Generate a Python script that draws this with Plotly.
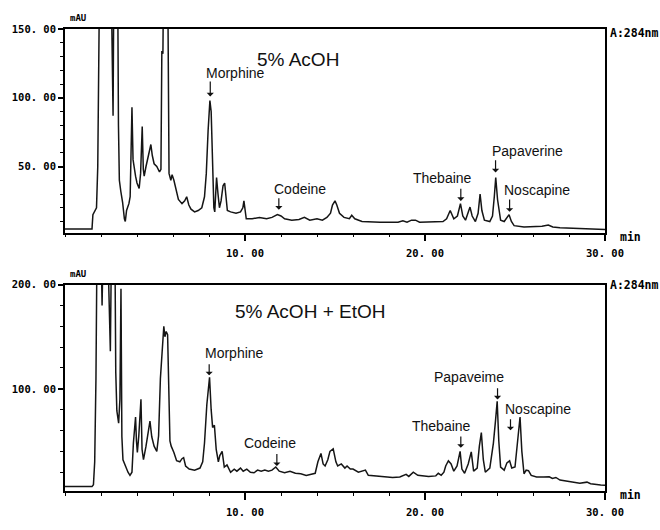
import plotly.graph_objects as go

# ---------------- data ----------------
top_time = [0.0, 1.5, 1.55, 1.62, 1.75, 1.82, 1.88, 1.93, 2.55, 2.62, 2.67, 2.72, 2.92, 2.97, 3.02, 3.1, 3.2,
            3.3, 3.35, 3.42, 3.55, 3.62, 3.72, 3.78, 3.84, 3.92, 4.0, 4.12, 4.2, 4.29, 4.35, 4.4, 4.5, 4.6,
            4.7, 4.77, 4.85, 4.95, 5.1, 5.25, 5.33, 5.38, 5.44, 5.48, 5.7, 5.78, 5.88, 5.95, 6.05, 6.15,
            6.3, 6.5, 6.65, 6.76, 6.88, 7.0, 7.2, 7.4, 7.6, 7.75, 7.85, 7.95, 8.05, 8.12, 8.2, 8.27, 8.32,
            8.42, 8.5, 8.58, 8.67, 8.78, 8.87, 8.95, 9.02, 9.2, 9.5, 9.75, 9.88, 9.94, 10.0, 10.07, 10.4,
            10.8, 11.2, 11.5, 11.8, 12.0, 12.2, 12.6, 13.0, 13.3, 13.6, 14.0, 14.3, 14.55, 14.75, 14.86,
            15.0, 15.1, 15.25, 15.5, 15.8, 15.93, 16.1, 16.5, 17.5, 18.5, 18.77, 19.0, 19.25, 19.47, 19.7,
            20.5, 21.0, 21.2, 21.4, 21.6, 21.8, 21.97, 22.1, 22.25, 22.5, 22.62, 22.8, 22.95, 23.06, 23.16,
            23.3, 23.6, 23.75, 23.85, 23.93, 24.03, 24.2, 24.4, 24.55, 24.67, 24.8, 24.95, 25.5, 26.0, 26.5,
            26.85, 27.1, 27.5, 28.5, 29.5, 30.0]
top_abs = [4.5, 4.5, 15, 17, 20, 50, 110, 200, 200, 150, 87, 200, 200, 80, 40, 32, 24,
           12, 10, 18, 23, 28, 93, 55, 48, 43, 38, 34, 45, 79, 48, 43, 50, 56,
           62, 66, 58, 52, 50, 46, 48, 134, 132, 200, 200, 45, 40, 44, 40, 34,
           26, 23, 25, 28, 22, 19, 17, 18, 20, 28, 45, 76, 98, 90, 55, 20, 17,
           42, 30, 20, 25, 36, 38, 28, 18, 17, 16, 17, 20, 25, 20, 12, 12,
           13, 12, 13, 15, 14, 12, 11, 11.5, 13, 11, 12, 11, 13, 16, 22,
           25, 22, 16, 13, 12, 14.5, 12, 10, 9.5, 9.5, 10.5, 9.5, 11, 11, 9.5,
           9.5, 10, 12, 18, 12, 14, 23, 14, 11, 20.5, 14, 10, 16, 30, 18,
           11, 10, 14, 28, 42, 26, 11, 10, 13, 15, 10, 7, 6, 6, 6.5,
           7.5, 6, 5.5, 5, 4.5, 4.2]

bot_time = [0.0, 1.5, 1.58, 1.65, 1.72, 1.77, 2.02, 2.06, 2.1, 2.4, 2.47, 2.52, 2.57, 2.78, 2.82, 2.88,
            2.98, 3.05, 3.11, 3.16, 3.22, 3.35, 3.5, 3.61, 3.72, 3.8, 3.87, 3.92, 3.97, 4.02, 4.1, 4.15,
            4.22, 4.28, 4.36, 4.5, 4.6, 4.72, 4.82, 4.95, 5.1, 5.2, 5.3, 5.42, 5.49, 5.55, 5.62, 5.7, 5.78,
            5.83, 5.9, 6.05, 6.2, 6.38, 6.5, 6.59, 6.7, 6.9, 7.2, 7.5, 7.65, 7.75, 7.88, 8.03, 8.12, 8.2,
            8.3, 8.4, 8.52, 8.6, 8.73, 8.85, 9.0, 9.2, 9.4, 9.55, 9.75, 9.9, 10.1, 10.3, 10.5, 10.7, 10.9,
            11.1, 11.3, 11.5, 11.71, 11.9, 12.2, 12.5, 12.8, 13.1, 13.4, 13.7, 13.9, 14.05, 14.22, 14.34,
            14.45, 14.6, 14.72, 14.9, 15.05, 15.15, 15.35, 15.55, 15.67, 15.85, 16.0, 16.3, 16.5, 16.69,
            16.85, 17.2, 17.6, 18.2, 18.6, 18.95, 19.1, 19.35, 19.6, 20.2, 20.6, 20.74, 20.9, 21.05, 21.15,
            21.3, 21.45, 21.6, 21.78, 21.95, 22.05, 22.2, 22.4, 22.57, 22.7, 22.9, 23.02, 23.13, 23.24,
            23.35, 23.6, 23.8, 23.92, 24.01, 24.1, 24.2, 24.4, 24.55, 24.7, 24.82, 25.0, 25.15, 25.28,
            25.38, 25.5, 25.62, 25.75, 25.9, 26.2, 26.6, 26.9, 27.08, 27.27, 27.5, 28.1, 28.6, 29.0,
            29.2, 29.76, 30.0]
bot_abs = [6.2, 6.2, 8, 30, 110, 220, 220, 180, 220, 220, 146, 136, 220, 220, 116, 79,
           67, 90, 196, 54, 32, 26, 20, 17, 20, 48, 60, 73, 50, 39, 55, 70,
           90, 42, 32, 45, 55, 69, 54, 45, 40, 55, 110, 150, 160, 150, 155, 152, 100,
           50, 45, 39, 31, 30, 33, 34, 26, 23, 22, 24, 30, 48, 85, 111, 80, 63,
           65, 42, 30, 36, 40, 25, 27, 20, 23, 21, 24, 21, 23, 20, 19.5, 22, 21,
           22, 21, 22, 25, 21, 19.5, 21, 19, 18.5, 17, 18, 19, 30, 38, 28,
           26, 32, 40, 42.5, 30, 26, 28, 24, 26, 23, 23, 20, 21, 22,
           17, 16.5, 15.5, 15, 15.5, 18, 16, 20, 17, 16, 16.5, 19, 17, 20, 26,
           31, 28, 21, 26, 40, 23, 19, 28, 39.5, 21, 24, 45, 58, 32,
           20, 24, 48, 70, 88, 50, 25, 22, 29, 31, 24, 25, 50, 73,
           40, 18.5, 22, 21.6, 17, 15.5, 15.5, 15.7, 14, 15, 12.5, 11, 9.5, 10.5,
           9, 7.7, 7.5]

x_tick_vals = [10, 20, 30]
x_tick_text = ["10. 00", "20. 00", "30. 00"]
top_y_tick_vals = [50, 100, 150]
top_y_tick_text = ["50. 00", "100. 00", "150. 00"]
bot_y_tick_vals = [100, 200]
bot_y_tick_text = ["100. 00", "200. 00"]

compounds_top = ["Morphine", "Codeine", "Thebaine", "Papaverine", "Noscapine"]
compounds_bot = ["Morphine", "Codeine", "Thebaine", "Papaveime", "Noscapine"]
# label anchors (left edge x, centre y), arrow x, arrow tail y, arrow tip y
top_lbl_x = [7.7, 11.5, 19.2, 23.6, 24.3]
top_lbl_y = [117.9, 33.6, 41.4, 61.4, 32.9]
top_arr_x = [8.07, 11.88, 21.99, 23.92, 24.7]
top_arr_tail = [113, 28, 35, 55.7, 27.1]
top_arr_tip = [101, 18.6, 25, 45.7, 17.1]

bot_lbl_x = [7.68, 9.83, 19.17, 20.39, 24.31]
bot_lbl_y = [134.3, 48.1, 63.9, 111.1, 80.6]
bot_arr_x = [8.01, 11.77, 21.99, 24.03, 24.75]
bot_arr_tail = [125, 38.9, 55.6, 101.9, 72.2]
bot_arr_tip = [113, 25.9, 43.5, 89.8, 60.2]

# ---------------- figure ----------------
fig = go.Figure()
line_style = dict(color="#151515", width=1.5)
fig.add_trace(go.Scatter(x=top_time, y=top_abs, mode="lines", line=line_style,
                         xaxis="x", yaxis="y", showlegend=False, hoverinfo="skip"))
fig.add_trace(go.Scatter(x=bot_time, y=bot_abs, mode="lines", line=line_style,
                         xaxis="x2", yaxis="y2", showlegend=False, hoverinfo="skip"))

tickfont = dict(family="DejaVu Sans Mono", size=10.5, color="black", weight="bold")
xaxis_common = dict(range=[0, 30], showgrid=False, zeroline=False, showline=True, mirror=True,
                    linecolor="black", linewidth=1.8, ticks="outside", ticklen=7, tickwidth=1.5,
                    tickcolor="black", tickvals=x_tick_vals, ticktext=x_tick_text, tickfont=tickfont,
                    ticklabelstandoff=3,
                    minor=dict(ticks="outside", ticklen=3, dtick=2, tick0=0, tickcolor="black", tickwidth=1))
yaxis_common = dict(showgrid=False, zeroline=False, showline=True, mirror=True, linecolor="black",
                    linewidth=1.8, ticks="outside", ticklen=5, tickwidth=1.5, tickcolor="black",
                    tickfont=tickfont)

top_dom = [0.5595, 1.0]
bot_dom = [0.0, 0.4468]
fig.update_layout(
    width=660, height=530,
    margin=dict(l=62, r=55, t=29, b=22),
    paper_bgcolor="white", plot_bgcolor="white",
    xaxis=dict(domain=[0, 1], anchor="y", **xaxis_common),
    yaxis=dict(domain=top_dom, anchor="x", range=[2, 150], tickvals=top_y_tick_vals,
               ticktext=top_y_tick_text,
               minor=dict(ticks="outside", ticklen=3, dtick=10, tick0=0, tickcolor="black", tickwidth=1),
               **yaxis_common),
    xaxis2=dict(domain=[0, 1], anchor="y2", **xaxis_common),
    yaxis2=dict(domain=bot_dom, anchor="x2", range=[2, 200], tickvals=bot_y_tick_vals,
                ticktext=bot_y_tick_text,
                minor=dict(ticks="outside", ticklen=3, dtick=20, tick0=0, tickcolor="black", tickwidth=1),
                **yaxis_common),
)

ann = []
lblfont = dict(family="Liberation Sans", size=14, color="#111")
for name, lx, ly, axx, at, ap in zip(compounds_top, top_lbl_x, top_lbl_y, top_arr_x, top_arr_tail, top_arr_tip):
    ann.append(dict(xref="x", yref="y", x=lx, y=ly, text=name, showarrow=False, xanchor="left",
                    yanchor="middle", font=lblfont))
    ann.append(dict(xref="x", yref="y", axref="x", ayref="y", x=axx, y=ap, ax=axx, ay=at, text="",
                    showarrow=True, arrowhead=1, arrowsize=1, arrowwidth=1.2, arrowcolor="#111"))
for name, lx, ly, axx, at, ap in zip(compounds_bot, bot_lbl_x, bot_lbl_y, bot_arr_x, bot_arr_tail, bot_arr_tip):
    ann.append(dict(xref="x2", yref="y2", x=lx, y=ly, text=name, showarrow=False, xanchor="left",
                    yanchor="middle", font=lblfont))
    ann.append(dict(xref="x2", yref="y2", axref="x2", ayref="y2", x=axx, y=ap, ax=axx, ay=at, text="",
                    showarrow=True, arrowhead=1, arrowsize=1, arrowwidth=1.2, arrowcolor="#111"))

titlefont = dict(family="Liberation Sans", size=19, color="#111")
ann.append(dict(xref="paper", yref="paper", x=0.431, y=0.935, text="5% AcOH", showarrow=False,
                xanchor="center", yanchor="middle", font=titlefont))
ann.append(dict(xref="paper", yref="paper", x=0.453, y=0.388, text="5% AcOH + EtOH", showarrow=False,
                xanchor="center", yanchor="middle", font=titlefont))

smallfont = dict(family="DejaVu Sans Mono", size=9, color="black", weight="bold")
unitfont = dict(family="DejaVu Sans Mono", size=11.5, color="black", weight="bold")
for yy in [1.023, 0.470]:
    ann.append(dict(xref="paper", yref="paper", x=0.006, y=yy, text="mAU", showarrow=False,
                    xanchor="left", yanchor="middle", font=smallfont))
for yy in [0.992, 0.445]:
    ann.append(dict(xref="paper", yref="paper", x=1.006, y=yy, text="A:284nm", showarrow=False,
                    xanchor="left", yanchor="middle", font=unitfont))
for yy in [0.549, -0.008]:
    ann.append(dict(xref="paper", yref="paper", x=1.024, y=yy, text="min", showarrow=False,
                    xanchor="left", yanchor="middle", font=unitfont))

fig.update_layout(annotations=ann)
fig.write_html("out.html")
